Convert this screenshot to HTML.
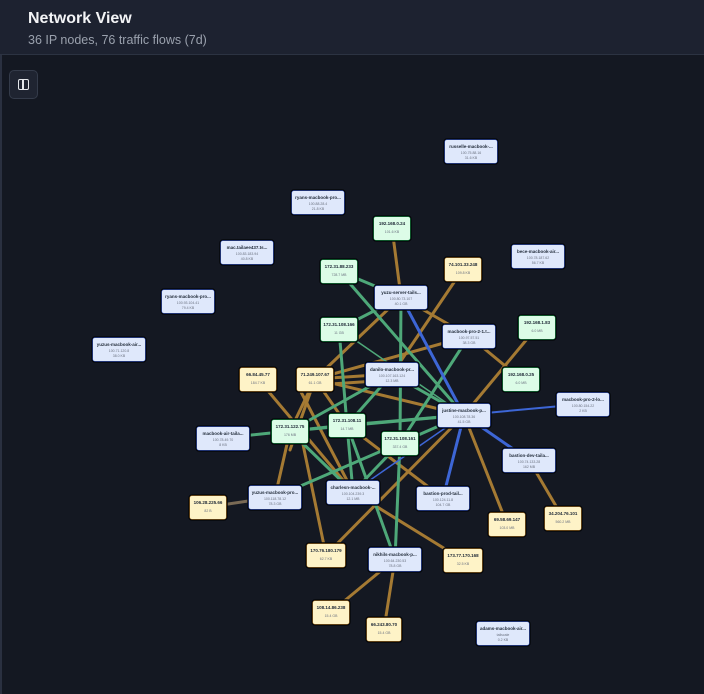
<!DOCTYPE html>
<html><head><meta charset="utf-8"><style>
html,body{margin:0;padding:0;background:#141822;width:704px;height:694px;overflow:hidden;font-family:"Liberation Sans",sans-serif}
.hdr{position:absolute;left:0;top:0;width:704px;height:54px;background:#1d2230;border-bottom:1px solid #2c3342}
.t{position:absolute;left:28px;top:10px;color:#f3f4f6;font-weight:bold;font-size:16px}
.s{position:absolute;left:28px;top:33px;color:#9aa1ad;font-size:12.5px}
.btn{position:absolute;left:9px;top:70px;width:27px;height:27px;border:1px solid #343b4a;border-radius:5px;background:#1f2431}
.btn:after{content:"";position:absolute;left:8px;top:8px;width:9px;height:9px;border:1.5px solid #e5e7eb;border-radius:2px}
.btn:before{content:"";position:absolute;left:12px;top:9px;width:1.5px;height:10px;background:#e5e7eb}
.side{position:absolute;left:0;top:55px;width:2px;height:639px;background:#2a3040}
svg{position:absolute;left:0;top:0}
svg text{font-family:"Liberation Sans",sans-serif;text-anchor:middle}
rect{paint-order:stroke}
.halo rect{stroke:#05070b;stroke-width:3.5;fill:none}
</style></head><body>
<div class="hdr"><div class="t">Network View</div><div class="s">36 IP nodes, 76 traffic flows (7d)</div></div>
<div class="side"></div>
<div class="btn"></div>
<svg width="704" height="694" viewBox="0 0 704 694">
<g stroke-width="3" fill="none" stroke-linecap="round">
<g stroke="#a57a33">
<line x1="392" y1="228" x2="401" y2="297"/>
<line x1="463" y1="269" x2="392" y2="374"/>
<line x1="401" y1="297" x2="315" y2="379"/>
<line x1="401" y1="297" x2="469" y2="336"/>
<line x1="469" y1="336" x2="315" y2="379"/>
<line x1="469" y1="336" x2="521" y2="379"/>
<line x1="537" y1="327" x2="464" y2="415"/>
<line x1="315" y1="379" x2="392" y2="374"/>
<line x1="315" y1="385" x2="392" y2="380"/>
<line x1="315" y1="379" x2="464" y2="415"/>
<line x1="315" y1="379" x2="290" y2="431"/>
<line x1="315" y1="379" x2="347" y2="425"/>
<line x1="258" y1="379" x2="353" y2="492"/>
<line x1="464" y1="415" x2="507" y2="524"/>
<line x1="464" y1="415" x2="326" y2="555"/>
<line x1="529" y1="460" x2="563" y2="518"/>
<line x1="347" y1="425" x2="443" y2="498"/>
<line x1="353" y1="492" x2="463" y2="560"/>
<line x1="395" y1="559" x2="331" y2="612"/>
<line x1="395" y1="559" x2="384" y2="629"/>
<line x1="290" y1="431" x2="275" y2="497"/>
<line x1="300" y1="390" x2="353" y2="492"/>
<line x1="300" y1="430" x2="326" y2="555"/>
<line x1="315" y1="379" x2="290" y2="450"/>
</g>
<g stroke="#4ea879">
<line x1="339" y1="271" x2="401" y2="297"/>
<line x1="339" y1="271" x2="464" y2="415"/>
<line x1="401" y1="297" x2="400" y2="443"/>
<line x1="401" y1="297" x2="339" y2="329"/>
<line x1="339" y1="329" x2="347" y2="425"/>
<line x1="339" y1="329" x2="464" y2="415" stroke-width="1.5"/>
<line x1="469" y1="336" x2="400" y2="443"/>
<line x1="392" y1="374" x2="290" y2="431"/>
<line x1="392" y1="374" x2="347" y2="425"/>
<line x1="392" y1="374" x2="464" y2="415"/>
<line x1="464" y1="415" x2="347" y2="425"/>
<line x1="464" y1="415" x2="290" y2="431"/>
<line x1="223" y1="438" x2="290" y2="431"/>
<line x1="290" y1="431" x2="347" y2="425"/>
<line x1="290" y1="431" x2="353" y2="492"/>
<line x1="400" y1="443" x2="275" y2="497"/>
<line x1="347" y1="425" x2="353" y2="492"/>
<line x1="347" y1="425" x2="395" y2="559"/>
<line x1="400" y1="443" x2="353" y2="492"/>
<line x1="400" y1="443" x2="395" y2="559"/>
<line x1="464" y1="415" x2="400" y2="443"/>
</g>
<g stroke="#3d66d6">
<line x1="401" y1="297" x2="464" y2="415"/>
<line x1="464" y1="415" x2="583" y2="404" stroke-width="2"/>
<line x1="464" y1="415" x2="529" y2="460"/>
<line x1="464" y1="415" x2="443" y2="498"/>
<line x1="464" y1="415" x2="353" y2="492" stroke-width="1.5"/>
<line x1="208" y1="507" x2="275" y2="497" stroke="#7a6a55"/>
</g>
</g>
<g class="halo">
<rect x="445" y="140" width="52" height="23" rx="2"/><rect x="292" y="191" width="52" height="23" rx="2"/><rect x="221" y="241" width="52" height="23" rx="2"/><rect x="512" y="245" width="52" height="23" rx="2"/><rect x="162" y="290" width="52" height="23" rx="2"/><rect x="375" y="286" width="52" height="23" rx="2"/><rect x="93" y="338" width="52" height="23" rx="2"/><rect x="443" y="325" width="52" height="23" rx="2"/><rect x="366" y="363" width="52" height="23" rx="2"/><rect x="557" y="393" width="52" height="23" rx="2"/><rect x="438" y="404" width="52" height="23" rx="2"/><rect x="197" y="427" width="52" height="23" rx="2"/><rect x="503" y="449" width="52" height="23" rx="2"/><rect x="249" y="486" width="52" height="23" rx="2"/><rect x="327" y="481" width="52" height="23" rx="2"/><rect x="417" y="487" width="52" height="23" rx="2"/><rect x="369" y="548" width="52" height="23" rx="2"/><rect x="477" y="622" width="52" height="23" rx="2"/>
<rect x="374" y="217" width="36" height="23" rx="2"/><rect x="321" y="260" width="36" height="23" rx="2"/><rect x="321" y="318" width="36" height="23" rx="2"/><rect x="519" y="316" width="36" height="23" rx="2"/><rect x="503" y="368" width="36" height="23" rx="2"/><rect x="329" y="414" width="36" height="23" rx="2"/><rect x="272" y="420" width="36" height="23" rx="2"/><rect x="382" y="432" width="36" height="23" rx="2"/>
<rect x="445" y="258" width="36" height="23" rx="2"/><rect x="240" y="368" width="36" height="23" rx="2"/><rect x="297" y="368" width="36" height="23" rx="2"/><rect x="190" y="496" width="36" height="23" rx="2"/><rect x="489" y="513" width="36" height="23" rx="2"/><rect x="545" y="507" width="36" height="23" rx="2"/><rect x="307" y="544" width="38" height="23" rx="2"/><rect x="444" y="549" width="38" height="23" rx="2"/><rect x="313" y="601" width="36" height="23" rx="2"/><rect x="367" y="618" width="34" height="23" rx="2"/>
</g>
<g font-size="4.5" fill="#1f2937">
<g stroke="#3a5fd9" stroke-width="1" fill="#dfe8fb">
<rect x="445" y="140" width="52" height="23" rx="2"/><rect x="292" y="191" width="52" height="23" rx="2"/><rect x="221" y="241" width="52" height="23" rx="2"/><rect x="512" y="245" width="52" height="23" rx="2"/><rect x="162" y="290" width="52" height="23" rx="2"/><rect x="375" y="286" width="52" height="23" rx="2"/><rect x="93" y="338" width="52" height="23" rx="2"/><rect x="443" y="325" width="52" height="23" rx="2"/><rect x="366" y="363" width="52" height="23" rx="2"/><rect x="557" y="393" width="52" height="23" rx="2"/><rect x="438" y="404" width="52" height="23" rx="2"/><rect x="197" y="427" width="52" height="23" rx="2"/><rect x="503" y="449" width="52" height="23" rx="2"/><rect x="249" y="486" width="52" height="23" rx="2"/><rect x="327" y="481" width="52" height="23" rx="2"/><rect x="417" y="487" width="52" height="23" rx="2"/><rect x="369" y="548" width="52" height="23" rx="2"/><rect x="477" y="622" width="52" height="23" rx="2"/>
</g>
<g stroke="#16a34a" stroke-width="1" fill="#dcfce7">
<rect x="374" y="217" width="36" height="23" rx="2"/><rect x="321" y="260" width="36" height="23" rx="2"/><rect x="321" y="318" width="36" height="23" rx="2"/><rect x="519" y="316" width="36" height="23" rx="2"/><rect x="503" y="368" width="36" height="23" rx="2"/><rect x="329" y="414" width="36" height="23" rx="2"/><rect x="272" y="420" width="36" height="23" rx="2"/><rect x="382" y="432" width="36" height="23" rx="2"/>
</g>
<g stroke="#b7791f" stroke-width="1" fill="#fef3c7">
<rect x="445" y="258" width="36" height="23" rx="2"/><rect x="240" y="368" width="36" height="23" rx="2"/><rect x="297" y="368" width="36" height="23" rx="2"/><rect x="190" y="496" width="36" height="23" rx="2"/><rect x="489" y="513" width="36" height="23" rx="2"/><rect x="545" y="507" width="36" height="23" rx="2"/><rect x="307" y="544" width="38" height="23" rx="2"/><rect x="444" y="549" width="38" height="23" rx="2"/><rect x="313" y="601" width="36" height="23" rx="2"/><rect x="367" y="618" width="34" height="23" rx="2"/>
</g>
<g font-weight="bold">
<text x="471" y="148">russelle-macbook-...</text>
<text x="318" y="199">ryans-macbook-pro...</text>
<text x="247" y="249">mac.tailaee437.ts...</text>
<text x="538" y="253">bece-macbook-air...</text>
<text x="188" y="298">ryans-macbook-pro...</text>
<text x="401" y="294">yuzu-server-tails...</text>
<text x="119" y="346">yuzus-macbook-air...</text>
<text x="469" y="333">macbook-pro-2-1.t...</text>
<text x="392" y="371">danilo-macbook-pr...</text>
<text x="583" y="401">macbook-pro-2-lo...</text>
<text x="464" y="412">justine-macbook-p...</text>
<text x="223" y="435">macbook-air-taila...</text>
<text x="529" y="457">bastion-dev-taila...</text>
<text x="275" y="494">yuzus-macbook-pro...</text>
<text x="353" y="489">charlesn-macbook-...</text>
<text x="443" y="495">bastion-prod-tail...</text>
<text x="395" y="556">nikhils-macbook-p...</text>
<text x="503" y="630">adams-macbook-air...</text>
<text x="392" y="225">192.168.0.24</text>
<text x="339" y="268">172.31.88.233</text>
<text x="339" y="326">172.31.108.166</text>
<text x="537" y="324">192.168.1.83</text>
<text x="521" y="376">192.168.0.25</text>
<text x="347" y="422">172.31.108.11</text>
<text x="290" y="428">172.31.122.75</text>
<text x="400" y="440">172.31.108.161</text>
<text x="463" y="266">74.101.33.248</text>
<text x="258" y="376">66.84.45.77</text>
<text x="315" y="376">71.249.107.67</text>
<text x="208" y="504">106.28.225.66</text>
<text x="507" y="521">69.58.69.147</text>
<text x="563" y="515">34.204.76.101</text>
<text x="326" y="552">170.76.180.179</text>
<text x="463" y="557">173.77.170.168</text>
<text x="331" y="609">108.14.86.238</text>
<text x="384" y="626">66.243.80.70</text>
</g>
<g font-size="3.5" fill="#6b7280">
<text x="471" y="154">100.75.88.16</text><text x="471" y="159">31.6 KB</text>
<text x="318" y="205">100.88.28.4</text><text x="318" y="210">21.8 KB</text>
<text x="247" y="255">100.83.183.94</text><text x="247" y="260">40.8 KB</text>
<text x="538" y="259">100.78.187.62</text><text x="538" y="264">56.7 KB</text>
<text x="188" y="304">100.93.104.41</text><text x="188" y="309">79.4 KB</text>
<text x="401" y="300">100.80.73.107</text><text x="401" y="305">40.1 GB</text>
<text x="119" y="352">100.71.120.8</text><text x="119" y="357">38.0 KB</text>
<text x="469" y="339">100.97.57.51</text><text x="469" y="344">38.3 GB</text>
<text x="392" y="377">100.107.163.124</text><text x="392" y="382">12.3 MB</text>
<text x="583" y="407">100.80.154.22</text><text x="583" y="412">2 KB</text>
<text x="464" y="418">100.108.78.36</text><text x="464" y="423">41.5 GB</text>
<text x="223" y="441">100.78.49.70</text><text x="223" y="446">8 KB</text>
<text x="529" y="463">100.74.133.28</text><text x="529" y="468">162 MB</text>
<text x="275" y="500">100.118.78.12</text><text x="275" y="505">78.3 GB</text>
<text x="353" y="495">100.104.239.3</text><text x="353" y="500">12.1 MB</text>
<text x="443" y="501">100.124.11.8</text><text x="443" y="506">104.7 GB</text>
<text x="395" y="562">100.64.230.53</text><text x="395" y="567">78.8 GB</text>
<text x="503" y="636">tailscale</text><text x="503" y="641">0.2 KB</text>
<text x="392" y="233">101.6 KB</text><text x="339" y="276">728.7 MB</text><text x="339" y="334">11 GB</text>
<text x="537" y="332">6.0 MB</text><text x="521" y="384">6.0 MB</text><text x="347" y="430">14.7 MB</text>
<text x="290" y="436">176 MB</text><text x="400" y="448">337.4 GB</text><text x="463" y="274">109.8 KB</text>
<text x="258" y="384">184.7 KB</text><text x="315" y="384">61.1 GB</text><text x="208" y="512">82 B</text>
<text x="507" y="529">103.0 MB</text><text x="563" y="523">560.2 MB</text><text x="326" y="560">62.7 KB</text>
<text x="463" y="565">32.5 KB</text><text x="331" y="617">15.4 GB</text><text x="384" y="634">15.4 GB</text>
</g>
</g>
</svg>
</body></html>
